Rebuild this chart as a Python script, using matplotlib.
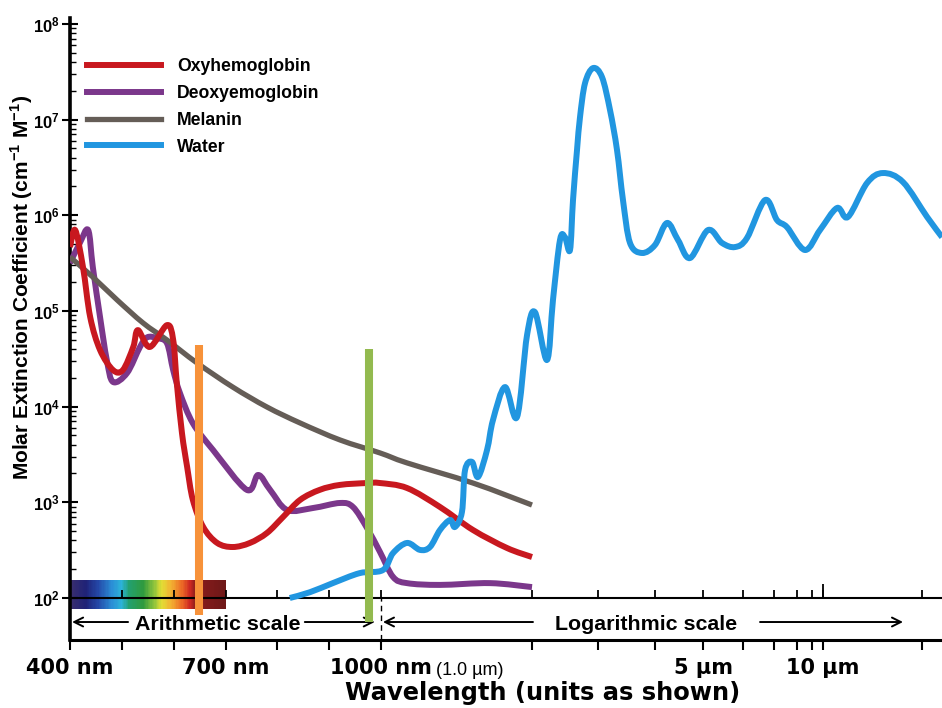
#!/usr/bin/env python3
import numpy as np
import matplotlib
matplotlib.use("Agg")
import matplotlib.pyplot as plt
from matplotlib.colors import LinearSegmentedColormap
from matplotlib.lines import Line2D
from matplotlib.patches import PathPatch
from matplotlib.path import Path
from matplotlib.ticker import FixedLocator, NullFormatter

plt.rcParams["font.family"] = ["Liberation Sans", "DejaVu Sans"]
plt.rcParams["mathtext.fontset"] = "custom"
plt.rcParams["mathtext.rm"] = "Liberation Sans"
plt.rcParams["mathtext.bf"] = "Liberation Sans:bold"

# wavelength in nm, molar extinction coefficient in cm^-1 M^-1
oxy_wl = [400, 410, 425, 439, 458, 483, 502, 522, 531, 554, 587, 599, 606, 616,
          626, 637, 657, 684, 714, 747, 780, 811, 844, 882, 921, 973, 998, 1127,
          1311, 1525, 1783, 2000]
oxy_val = [4.65e5, 7.0e5, 2.88e5, 8.6e4, 3.9e4, 2.41e4, 2.41e4, 4.2e4, 6.3e4,
           4.2e4, 7.1e4, 5.0e4, 1.77e4, 5.3e3, 2.34e3, 1.06e3, 552, 376, 341,
           376, 478, 702, 1060, 1350, 1520, 1590, 1590, 1410, 893, 514, 333, 268]

deoxy_wl = [400, 419, 435, 444, 458, 471, 483, 510, 535, 549, 568, 587, 599, 612,
            637, 676, 741, 763, 786, 819, 869, 921, 946, 973, 998, 1057, 1127,
            1311, 1650, 2000]
deoxy_val = [3.16e5, 5.13e5, 7.0e5, 2.88e5, 8.6e4, 3.07e4, 1.81e4, 2.24e4, 4.2e4,
             5.3e4, 5.2e4, 4.6e4, 2.41e4, 1.39e4, 6.7e3, 3.52e3, 1.35e3, 1.93e3,
             1.35e3, 831, 872, 984, 893, 539, 303, 166, 143, 137, 143, 130]

melanin_wl = [400, 444, 491, 541, 587, 645, 714, 780, 844, 921, 998, 1127, 1525, 2000]
melanin_val = [3.66e5, 2.26e5, 1.30e5, 7.48e4, 4.97e4, 2.86e4, 1.60e4, 9.9e3,
               6.74e3, 4.48e3, 3.28e3, 2.58e3, 1.59e3, 937]

water_wl = [824, 863, 907, 959, 1009, 1057, 1127, 1196, 1252, 1311, 1373, 1404,
            1450, 1471, 1519, 1561, 1627, 1672, 1767, 1867, 1955, 2037, 2193,
            2275, 2375, 2449, 2526, 2573, 2637, 2686, 2770, 2910, 3061, 3187,
            3302, 3403, 3526, 3746, 4000, 4230, 4452, 4708, 5115, 5453, 5786,
            6120, 6695, 7123, 7550, 8518, 9716, 11030, 11910, 13610, 15220,
            17510, 20720, 23010]
water_val = [100, 115, 143, 182, 196, 295, 376, 318, 341, 514, 653, 552, 792,
             2180, 2640, 1840, 3520, 7240, 1.6e4, 7780, 5.6e4, 9.7e4, 3.07e4,
             1.3e5, 5.5e5, 5.9e5, 4.33e5, 1.44e6, 4.8e6, 1.06e7, 2.4e7, 3.45e7,
             2.78e7, 1.26e7, 4.8e6, 1.44e6, 5.13e5, 4.03e5, 4.89e5, 8.3e5, 5.5e5,
             3.57e5, 7.0e5, 5.13e5, 4.65e5, 5.78e5, 1.44e6, 8.9e5, 7.5e5, 4.33e5,
             7.0e5, 1.19e6, 9.6e5, 2.17e6, 2.76e6, 2.22e6, 9.6e5, 5.9e5]

# laser lines marked in the figure (nm)
orange_wl = 648
green_wl = 976

x_ticks = [400, 500, 600, 700, 800, 900, 1000, 2000, 3000, 4000, 5000, 6000,
           7000, 8000, 9000, 10000, 20000]
x_labels = ["400 nm", "", "", "700 nm", "", "", "1000 nm", "", "", "",
            "5 µm", "", "", "", "", "10 µm", ""]

# the original x axis is hand-made: linear 400-1000 nm, then a stretched log
# scale. anchors are the log tick marks, in units of the 400-1000 nm span
LOG_ANCHORS = np.log10([1000, 2000, 3000, 4000, 5000, 6000, 7000, 8000, 9000,
                        10000, 20000, 30000])
POS_ANCHORS = np.array([311, 462, 528, 585, 633, 673, 704, 727, 742, 753, 852,
                        910], float) / 311


def fwd(wl):
    wl = np.asarray(wl, float)
    lin = (wl - 400) / 600
    lg = np.interp(np.log10(np.clip(wl, 1, None)), LOG_ANCHORS, POS_ANCHORS)
    return np.where(wl <= 1000, lin, lg)


def inv(p):
    p = np.asarray(p, float)
    lin = 400 + p * 600
    lg = 10 ** np.interp(p, POS_ANCHORS, LOG_ANCHORS)
    return np.where(p <= 1, lin, lg)


def smooth_path(wl, val):
    """Catmull-Rom bezier through the points, built in the axes' scaled space
    so the curve is drawn smooth like the hand-drawn original."""
    pts = np.column_stack([fwd(wl), np.log10(val)])
    n = len(pts)
    verts, codes = [pts[0]], [Path.MOVETO]
    for i in range(n - 1):
        p0, p1 = pts[max(i - 1, 0)], pts[i]
        p2, p3 = pts[i + 1], pts[min(i + 2, n - 1)]
        verts += [p1 + (p2 - p0) / 6, p2 - (p3 - p1) / 6, p2]
        codes += [Path.CURVE4] * 3
    verts = np.array(verts)
    return Path(np.column_stack([inv(verts[:, 0]), 10 ** verts[:, 1]]), codes)


fig = plt.figure(figsize=(9.42, 7.08), dpi=100)
ax = fig.add_axes([70 / 942, 1 - 640 / 708, 872 / 942, 622 / 708])
ax.set_xscale("function", functions=(fwd, inv))
ax.set_yscale("log")
ax.set_xlim(400, 23000)
y_min, y_max = 10 ** 1.561, 10 ** 8.061
ax.set_ylim(y_min, y_max)

# visible spectrum strip
spec = LinearSegmentedColormap.from_list("spec", [
    (0.00, "#3b2f6e"), (0.10, "#1f2277"), (0.18, "#2448a8"), (0.27, "#2b8fd6"),
    (0.33, "#2cb3d8"), (0.38, "#23a070"), (0.47, "#2f9a3e"), (0.54, "#8ec33c"),
    (0.59, "#e2dd35"), (0.65, "#f2b232"), (0.72, "#ec6a26"), (0.77, "#cf2a22"),
    (0.81, "#8a1c1c"), (1.00, "#6e1818")])
edges = np.linspace(400, 700, 121)
ax.pcolormesh(edges, [77, 154], ((edges[:-1] + edges[1:]) / 2 - 400)[None, :] / 300,
              cmap=spec, vmin=0, vmax=1, shading="flat", zorder=1)

series = [
    ("Oxyhemoglobin", oxy_wl, oxy_val, "#c8181f", 4.3, 4),
    ("Deoxyemoglobin", deoxy_wl, deoxy_val, "#7b378b", 4.3, 3),
    ("Melanin", melanin_wl, melanin_val, "#655d57", 3.8, 3),
    ("Water", water_wl, water_val, "#2196e0", 4.3, 5),
]
handles = []
for name, wl, val, col, lw, z in series:
    ax.add_patch(PathPatch(smooth_path(wl, val), fill=False, edgecolor=col,
                           lw=lw, joinstyle="round", capstyle="butt", zorder=z))
    handles.append(Line2D([], [], color=col, lw=lw, label=name))

ax.vlines(orange_wl, 66, 4.4e4, color="#f7923a", lw=5.8, zorder=8)
ax.vlines(green_wl, 56, 4.0e4, color="#93ba4f", lw=5.8, zorder=8)

# inner axis line at 10^2 with upward ticks, and the scale break
ax.axhline(100, color="black", lw=1.5, zorder=2)
ax.vlines(x_ticks[1:], 100, 121, color="black", lw=1.3, zorder=2)
ax.vlines(10000, 100, 140, color="black", lw=1.3, zorder=2)
ax.vlines(1000, y_min, 100, color="black", lw=1.0, linestyles=(0, (4, 3)), zorder=2)

arrow_y = 56.1
aprops = dict(arrowstyle="->", lw=1.4, color="black", shrinkA=0, shrinkB=0,
              mutation_scale=16)
ax.annotate("", xy=(404, arrow_y), xytext=(512, arrow_y), arrowprops=aprops)
ax.annotate("", xy=(988, arrow_y), xytext=(853, arrow_y), arrowprops=aprops)
ax.annotate("", xy=(1009, arrow_y), xytext=(2012, arrow_y), arrowprops=aprops)
ax.annotate("", xy=(17510, arrow_y), xytext=(6530, arrow_y), arrowprops=aprops)
ax.text(685, arrow_y, "Arithmetic scale", ha="center", va="center_baseline",
        fontsize=15.4, fontweight="bold", zorder=6)
ax.text(3822, arrow_y, "Logarithmic scale", ha="center", va="center_baseline",
        fontsize=15.4, fontweight="bold", zorder=6)

# axes styling
for s in ["top", "right"]:
    ax.spines[s].set_visible(False)
ax.spines["left"].set_linewidth(2.6)
ax.spines["bottom"].set_linewidth(2.2)

ax.set_xticks(x_ticks)
ax.set_xticklabels(x_labels)
ax.xaxis.set_minor_locator(FixedLocator([]))
ax.tick_params(axis="x", which="major", direction="out", length=7.2, width=1.5,
               pad=5.5, labelsize=15)
for t in ax.get_xticklabels():
    t.set_fontfamily("DejaVu Sans")
    t.set_fontweight("bold")

y_major = [10.0 ** k for k in range(2, 9)]
ax.set_yticks(y_major)
ax.set_yticklabels([r"$\mathbf{10^{%d}}$" % k for k in range(2, 9)])
ax.yaxis.set_minor_locator(FixedLocator([m * 10.0 ** k for k in range(2, 8)
                                         for m in range(2, 10)]))
ax.yaxis.set_minor_formatter(NullFormatter())
ax.tick_params(axis="y", which="major", direction="inout", length=12, width=1.5,
               pad=1.5, labelsize=12)
ax.tick_params(axis="y", which="minor", direction="in", length=4, width=1.0)

ax.legend(handles=handles, loc="upper left",
          bbox_to_anchor=(87 / 942, 1 - 58 / 708),
          bbox_transform=fig.transFigure, frameon=False, borderpad=0,
          borderaxespad=0, handlelength=4.2, handletextpad=0.9,
          labelspacing=0.56, prop=dict(family="Liberation Sans",
                                       weight="bold", size=12.7))

fig.text(470 / 942, 1 - 675 / 708, "(1.0 µm)", ha="center", va="baseline",
         fontsize=13)
fig.text(543 / 942, 1 - 700 / 708, "Wavelength (units as shown)", ha="center",
         va="baseline", fontsize=17.4, fontweight="bold", family="DejaVu Sans")
fig.text(22 / 942, 1 - 287 / 708,
         r"Molar Extinction Coefficient (cm$^{\mathbf{-1}}$ M$^{\mathbf{-1}}$)",
         rotation=90, ha="center", va="center", fontsize=15, fontweight="bold")

fig.savefig("out.png", dpi=100)
plt.close(fig)
